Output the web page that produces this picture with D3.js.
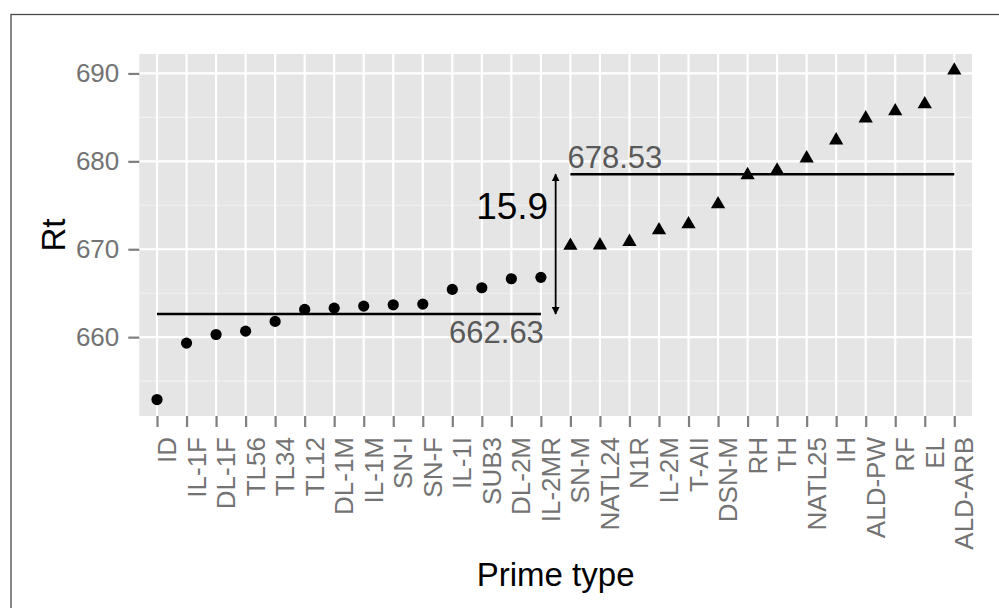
<!DOCTYPE html>
<html>
<head>
<meta charset="utf-8">
<script src="https://cdn.jsdelivr.net/npm/d3@7"></script>
<style>
  html, body { margin: 0; padding: 0; background: #ffffff; }
  svg { display: block; }
  text { font-family: "Liberation Sans", Arial, Helvetica, sans-serif; }
</style>
</head>
<body>
<svg id="chart" width="999" height="608"></svg>
<script>
// ---------------- data ----------------
const categories = ["ID","IL-1F","DL-1F","TL56","TL34","TL12","DL-1M","IL-1M","SN-I","SN-F","IL-1I","SUB3","DL-2M","IL-2MR",
                    "SN-M","NATL24","N1R","IL-2M","T-AII","DSN-M","RH","TH","NATL25","IH","ALD-PW","RF","EL","ALD-ARB"];
const rtValues = [652.9,659.32,660.3,660.68,661.79,663.15,663.3,663.53,663.68,663.76,665.43,665.62,666.64,666.8,
                  670.4,670.45,670.84,672.17,672.85,675.13,678.44,678.97,680.34,682.39,684.9,685.7,686.5,690.34];
const groups = ["circle","circle","circle","circle","circle","circle","circle","circle","circle","circle","circle","circle","circle","circle",
                "triangle","triangle","triangle","triangle","triangle","triangle","triangle","triangle","triangle","triangle","triangle","triangle","triangle","triangle"];
const groupNames = ["circle","triangle"];
const groupMeans = [662.63, 678.53];
const meanLabels = ["662.63", "678.53"];
const diffLabel = "15.9";
const diffLabelY = 675;
const yTicks = [660, 670, 680, 690];
const yMinorTicks = [655, 665, 675, 685];
const xTitle = "Prime type";
const yTitle = "Rt";

// ---------------- layout ----------------
const svg = d3.select("#chart");
const panel = { left: 139.3, right: 972, top: 54, bottom: 416 };

const [mn, mx] = d3.extent(rtValues);
const pad = (mx - mn) * 0.05;
const x = d3.scalePoint().domain(categories).range([panel.left, panel.right]).padding(0.6);
const y = d3.scaleLinear().domain([mn - pad, mx + pad]).range([panel.bottom, panel.top]);

// outer frame (only top/left visible in the reference crop)
svg.append("rect").attr("x", 11).attr("y", 14.5).attr("width", 1200).attr("height", 800)
  .attr("fill", "none").attr("stroke", "#4a4a4a").attr("stroke-width", 1.3);

// panel background
svg.append("rect").attr("x", panel.left).attr("y", panel.top)
  .attr("width", panel.right - panel.left).attr("height", panel.bottom - panel.top)
  .attr("fill", "#e5e5e5");

// minor grid
svg.append("g").selectAll("line").data(yMinorTicks).join("line")
  .attr("x1", panel.left).attr("x2", panel.right)
  .attr("y1", d => y(d)).attr("y2", d => y(d))
  .attr("stroke", "#f2f2f2").attr("stroke-width", 1.1);

// major grid
svg.append("g").selectAll("line").data(yTicks).join("line")
  .attr("x1", panel.left).attr("x2", panel.right)
  .attr("y1", d => y(d)).attr("y2", d => y(d))
  .attr("stroke", "#ffffff").attr("stroke-width", 2.2);
svg.append("g").selectAll("line").data(categories).join("line")
  .attr("x1", d => x(d)).attr("x2", d => x(d))
  .attr("y1", panel.top).attr("y2", panel.bottom)
  .attr("stroke", "#ffffff").attr("stroke-width", 2.2);

// y axis
const yAxis = svg.append("g").attr("transform", `translate(${panel.left},0)`)
  .call(d3.axisLeft(y).tickValues(yTicks).tickSize(11).tickPadding(9).tickFormat(d3.format("d")));
yAxis.select(".domain").remove();
yAxis.selectAll(".tick line").attr("stroke", "#7f7f7f").attr("stroke-width", 2.2);
yAxis.selectAll(".tick text").attr("fill", "#737373").attr("font-size", "26px")
  .attr("font-family", "Liberation Sans, Arial, Helvetica, sans-serif");

// x axis
const xAxis = svg.append("g").attr("transform", `translate(0,${panel.bottom})`)
  .call(d3.axisBottom(x).tickSize(11).tickPadding(0));
xAxis.select(".domain").remove();
xAxis.selectAll(".tick line").attr("stroke", "#7f7f7f").attr("stroke-width", 2.2);
xAxis.selectAll(".tick text")
  .attr("fill", "#737373").attr("font-size", "26px")
  .attr("font-family", "Liberation Sans, Arial, Helvetica, sans-serif")
  .attr("text-anchor", "end")
  .attr("dy", null)
  .attr("y", 0).attr("x", 0)
  .attr("transform", "translate(18.5,21) rotate(-90)");

// axis titles
svg.append("text").attr("x", (panel.left + panel.right) / 2).attr("y", 586)
  .attr("text-anchor", "middle").attr("font-size", "33px").attr("fill", "#000").text(xTitle);
svg.append("text").attr("transform", `translate(65,${(panel.top + panel.bottom) / 2}) rotate(-90)`)
  .attr("text-anchor", "middle").attr("font-size", "33px").attr("fill", "#000").text(yTitle);

// mean lines
const groupIdx = g => categories.filter((c, i) => groups[i] === g);
groupNames.forEach((g, gi) => {
  const cats = groupIdx(g);
  svg.append("line")
    .attr("x1", x(cats[0])).attr("x2", x(cats[cats.length - 1]))
    .attr("y1", y(groupMeans[gi])).attr("y2", y(groupMeans[gi]))
    .attr("stroke", "#000").attr("stroke-width", 2.4);
});
// mean labels
const lowCats = groupIdx("circle"), highCats = groupIdx("triangle");
svg.append("text").attr("x", x(lowCats[lowCats.length - 1]) + 3).attr("y", y(groupMeans[0]) + 29)
  .attr("text-anchor", "end").attr("font-size", "31px").attr("fill", "#595959").text(meanLabels[0]);
svg.append("text").attr("x", x(highCats[0]) - 3).attr("y", y(groupMeans[1]) - 6)
  .attr("text-anchor", "start").attr("font-size", "31px").attr("fill", "#595959").text(meanLabels[1]);

// difference arrow
const arrowX = (x(lowCats[lowCats.length - 1]) + x(highCats[0])) / 2;
const defs = svg.append("defs");
defs.append("marker").attr("id", "ah").attr("viewBox", "0 0 10 10").attr("refX", 9).attr("refY", 5)
  .attr("markerWidth", 8).attr("markerHeight", 8).attr("markerUnits", "userSpaceOnUse")
  .attr("orient", "auto-start-reverse")
  .append("path").attr("d", "M0,0 L10,5 L0,10 z").attr("fill", "#000");
svg.append("line")
  .attr("x1", arrowX).attr("x2", arrowX)
  .attr("y1", y(groupMeans[0])).attr("y2", y(groupMeans[1]))
  .attr("stroke", "#000").attr("stroke-width", 1.8)
  .attr("marker-start", "url(#ah)").attr("marker-end", "url(#ah)");
svg.append("text").attr("x", arrowX - 7.5).attr("y", y(diffLabelY)).attr("dy", "0.36em")
  .attr("text-anchor", "end").attr("font-size", "37px").attr("fill", "#000").text(diffLabel);

// points
const data = categories.map((c, i) => ({ c, v: rtValues[i], g: groups[i] }));
const s = 5.3;
const triPath = `M0,${-1.5551 * s} L${1.3468 * s},${0.7776 * s} L${-1.3468 * s},${0.7776 * s} Z`;
svg.append("g").selectAll("circle").data(data.filter(d => d.g === "circle")).join("circle")
  .attr("cx", d => x(d.c)).attr("cy", d => y(d.v)).attr("r", 5.6).attr("fill", "#000");
svg.append("g").selectAll("path").data(data.filter(d => d.g === "triangle")).join("path")
  .attr("transform", d => `translate(${x(d.c)},${y(d.v)})`).attr("d", triPath).attr("fill", "#000");
</script>
</body>
</html>
